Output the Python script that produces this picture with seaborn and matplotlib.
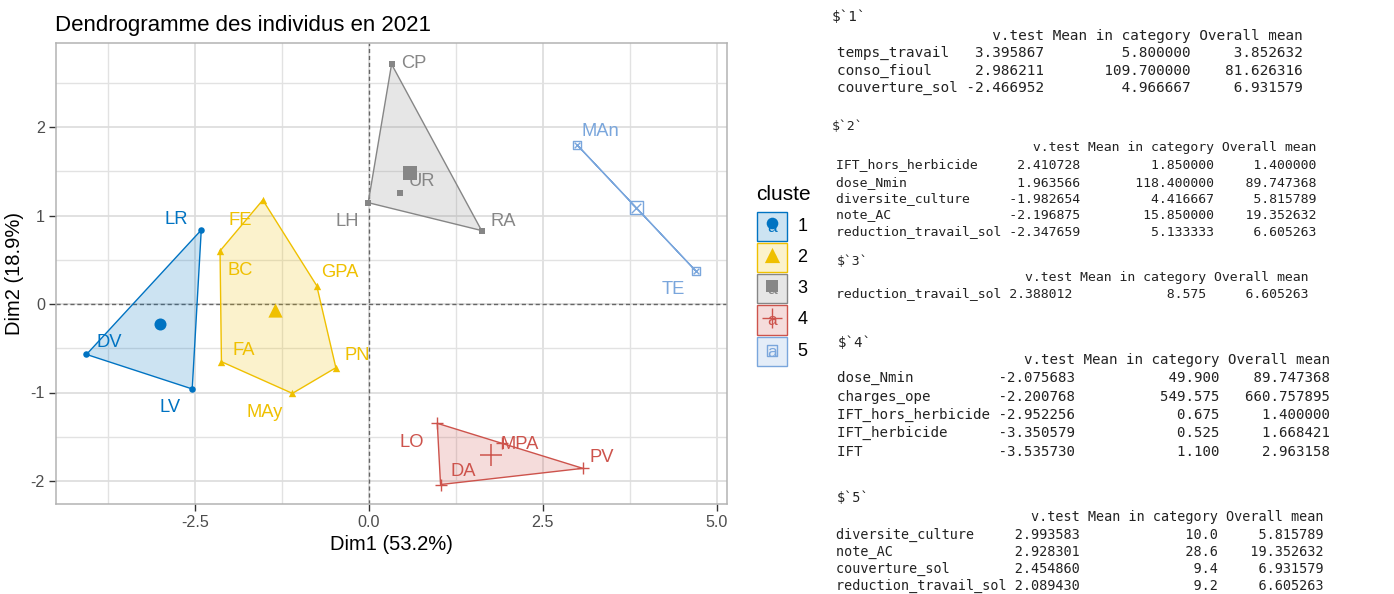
import numpy as np
import pandas as pd
import matplotlib
matplotlib.use("Agg")
import matplotlib.pyplot as plt
import seaborn as sns
from matplotlib.patches import Rectangle
from matplotlib.ticker import FixedLocator

# ---------------- data ----------------
names = ["LR", "DV", "LV", "FE", "BC", "GPA", "PN", "MAy", "FA",
         "CP", "LH", "RA", "UR", "LO", "DA", "PV", "MPA", "MAn", "TE"]
dim1 = [-2.41, -4.06, -2.54, -1.525, -2.14, -0.75, -0.475, -1.10, -2.12,
        0.326, -0.01, 1.62, 0.446, 0.983, 1.03, 3.075, 1.91, 2.99, 4.70]
dim2 = [0.836, -0.57, -0.96, 1.175, 0.60, 0.207, -0.72, -1.01, -0.652,
        2.71, 1.145, 0.83, 1.258, -1.348, -2.04, -1.857, -1.574, 1.80, 0.373]
cluster = [1, 1, 1, 2, 2, 2, 2, 2, 2, 3, 3, 3, 3, 4, 4, 4, 4, 5, 5]
cluster_levels = [1, 2, 3, 4, 5]

title = "Dendrogramme des individus en 2021"
xlabel = "Dim1 (53.2%)"
ylabel = "Dim2 (18.9%)"
legend_title = "cluster"
xticks = [-2.5, 0.0, 2.5, 5.0]
xticklabels = ["-2.5", "0.0", "2.5", "5.0"]
yticks = [-2, -1, 0, 1, 2]
yticklabels = ["-2", "-1", "0", "1", "2"]

# catdes-like console output (one list per column, per cluster)
c1_vars = ["temps_travail", "conso_fioul", "couverture_sol"]
c1_vtest = ["3.395867", "2.986211", "-2.466952"]
c1_mean = ["5.800000", "109.700000", "4.966667"]
c1_overall = ["3.852632", "81.626316", "6.931579"]

c2_vars = ["IFT_hors_herbicide", "dose_Nmin", "diversite_culture", "note_AC", "reduction_travail_sol"]
c2_vtest = ["2.410728", "1.963566", "-1.982654", "-2.196875", "-2.347659"]
c2_mean = ["1.850000", "118.400000", "4.416667", "15.850000", "5.133333"]
c2_overall = ["1.400000", "89.747368", "5.815789", "19.352632", "6.605263"]

c3_vars = ["reduction_travail_sol"]
c3_vtest = ["2.388012"]
c3_mean = ["8.575"]
c3_overall = ["6.605263"]

c4_vars = ["dose_Nmin", "charges_ope", "IFT_hors_herbicide", "IFT_herbicide", "IFT"]
c4_vtest = ["-2.075683", "-2.200768", "-2.952256", "-3.350579", "-3.535730"]
c4_mean = ["49.900", "549.575", "0.675", "0.525", "1.100"]
c4_overall = ["89.747368", "660.757895", "1.400000", "1.668421", "2.963158"]

c5_vars = ["diversite_culture", "note_AC", "couverture_sol", "reduction_travail_sol"]
c5_vtest = ["2.993583", "2.928301", "2.454860", "2.089430"]
c5_mean = ["10.0", "28.6", "9.4", "9.2"]
c5_overall = ["5.815789", "19.352632", "6.931579", "6.605263"]

# ---------------- styles / layout ----------------
palette = {1: "#0073C2", 2: "#EFC000", 3: "#868686", 4: "#CD534C", 5: "#7AA6DC"}
# label offsets in pixels (dx, dy up) of label centre from its point
label_off = {"LR": (-25, 13), "DV": (23, 14), "LV": (-22, -16), "FE": (-23, -18),
             "BC": (20, -18), "GPA": (23, 15), "PN": (21, 14), "MAy": (-28, -17),
             "FA": (22, 13), "CP": (22, 3), "LH": (-21, -17), "RA": (22, 11),
             "UR": (22, 13), "LO": (-26, -17), "DA": (23, 15), "PV": (19, 13),
             "MPA": (18, 1), "MAn": (23, 15), "TE": (-23, -16)}

W, H = 1394, 594
sns.set_theme(style="white")
plt.rcParams["font.family"] = ["Liberation Sans", "DejaVu Sans"]

df = pd.DataFrame({"name": names, "Dim1": dim1, "Dim2": dim2, "cluster": cluster})
cent = df.groupby("cluster")[["Dim1", "Dim2"]].mean().reset_index()

fig = plt.figure(figsize=(W / 100, H / 100), dpi=100)
fig.patch.set_facecolor("white")
L, R, T, B = 56, 726.7, 42.7, 503.7
ax = fig.add_axes([L / W, 1 - B / H, (R - L) / W, (B - T) / H])
ax.set_facecolor("white")

xpx = (716.7 - 195) / 7.5
x0 = 195 + 2.5 * xpx
ypx = (481 - 127) / 4.0
y0 = 127 + 2 * ypx
ax.set_xlim((L - x0) / xpx, (R - x0) / xpx)
ax.set_ylim((y0 - B) / ypx, (y0 - T) / ypx)

# grid
ax.xaxis.set_major_locator(FixedLocator(xticks))
ax.yaxis.set_major_locator(FixedLocator(yticks))
ax.xaxis.set_minor_locator(FixedLocator([-3.75, -1.25, 1.25, 3.75]))
ax.yaxis.set_minor_locator(FixedLocator([-1.5, -0.5, 0.5, 1.5, 2.5]))
ax.grid(True, which="major", color="#DCDCDC", lw=1.2, zorder=0)
ax.grid(True, which="minor", color="#E2E2E2", lw=1.0, zorder=0)
ax.set_axisbelow(True)
ax.set_xticklabels(xticklabels, fontsize=11.6, color="#4D4D4D")
ax.set_yticklabels(yticklabels, fontsize=11.6, color="#4D4D4D")
ax.tick_params(which="major", length=5, width=1.0, color="#333333", pad=3, bottom=True, left=True)
ax.tick_params(which="minor", length=0)
for s in ax.spines.values():
    s.set_color("#B3B3B3")
    s.set_linewidth(1.1)

# reference lines
ax.axhline(0, color="#666666", lw=1.0, ls=(0, (3, 2)), zorder=1)
ax.axvline(0, color="#666666", lw=1.0, ls=(0, (3, 2)), zorder=1)


def hull(pts):
    pts = sorted(set(pts))
    if len(pts) <= 2:
        return pts
    def cross(o, a, b):
        return (a[0] - o[0]) * (b[1] - o[1]) - (a[1] - o[1]) * (b[0] - o[0])
    lower, upper = [], []
    for p in pts:
        while len(lower) >= 2 and cross(lower[-2], lower[-1], p) <= 0:
            lower.pop()
        lower.append(p)
    for p in reversed(pts):
        while len(upper) >= 2 and cross(upper[-2], upper[-1], p) <= 0:
            upper.pop()
        upper.append(p)
    return lower[:-1] + upper[:-1]


for c in cluster_levels:
    sub = df[df.cluster == c]
    h = hull(list(zip(sub.Dim1, sub.Dim2)))
    hx = [p[0] for p in h] + [h[0][0]]
    hy = [p[1] for p in h] + [h[0][1]]
    if len(h) > 2:
        ax.fill(hx, hy, color=palette[c], alpha=0.2, lw=0, zorder=2)
    ax.plot(hx, hy, color=palette[c], lw=1.0, zorder=3)

# points
mk = {1: "o", 2: "^", 3: "s", 4: "+", 5: "s"}
s_pt = {1: 22, 2: 28, 3: 20, 4: 80, 5: 30}
s_ct = {1: 75, 2: 105, 3: 88, 4: 230, 5: 85}
for c in cluster_levels:
    sub = df[df.cluster == c]
    csub = cent[cent.cluster == c]
    col = palette[c]
    if c == 5:
        for data, s in ((sub, s_pt[c]), (csub, s_ct[c])):
            sns.scatterplot(data=data, x="Dim1", y="Dim2", marker="s", s=s, facecolors="none",
                            edgecolor=col, linewidth=1.0, ax=ax, zorder=4, legend=False)
            sns.scatterplot(data=data, x="Dim1", y="Dim2", marker="x", s=s * 0.55, color=col,
                            linewidth=1.0, ax=ax, zorder=4, legend=False)
    elif c == 4:
        sns.scatterplot(data=sub, x="Dim1", y="Dim2", marker="+", s=s_pt[c], color=col,
                        linewidth=1.0, ax=ax, zorder=4, legend=False)
        sns.scatterplot(data=csub, x="Dim1", y="Dim2", marker="+", s=s_ct[c], color=col,
                        linewidth=1.1, ax=ax, zorder=4, legend=False)
    else:
        sns.scatterplot(data=sub, x="Dim1", y="Dim2", marker=mk[c], s=s_pt[c], color=col,
                        edgecolor=col, linewidth=0, ax=ax, zorder=4, legend=False)
        sns.scatterplot(data=csub, x="Dim1", y="Dim2", marker=mk[c], s=s_ct[c], color=col,
                        edgecolor=col, linewidth=0, ax=ax, zorder=4, legend=False)

# labels
lab_fs = 13.2
cap = 0.716 * lab_fs / 0.72
for n, x, y, c in zip(names, dim1, dim2, cluster):
    dx, dy = label_off[n]
    ax.annotate(n, xy=(x, y), xytext=(dx, dy - cap / 2), textcoords="offset pixels",
                ha="center", va="baseline", fontsize=lab_fs, color=palette[c], zorder=5)

ax.set_xlabel(xlabel, fontsize=14.5, color="black", labelpad=4)
ax.set_ylabel(ylabel, fontsize=14.5, color="black", labelpad=5)
fig.text(55 / W, 1 - 30.7 / H, title, fontsize=16, color="black", ha="left", va="baseline")

# legend drawn in figure-pixel overlay
axl = fig.add_axes([0, 0, 1, 1])
axl.set_xlim(0, W)
axl.set_ylim(H, 0)
axl.axis("off")
axl.set_zorder(5)
axl.text(756, 195, legend_title, fontsize=15, color="black", ha="left", va="center")
key_x, key_top, key_size, key_step = 757.3, 211.7, 29.4, 31.2
leg_mk = {1: ("o", 70, 0), 2: ("^", 120, 0), 3: ("s", 75, 0), 4: ("+", 200, 1.0), 5: ("s", 60, 1.0)}
for i, c in enumerate(cluster_levels):
    col = palette[c]
    top = key_top + i * key_step
    cx, cy = key_x + key_size / 2, top + key_size / 2
    axl.add_patch(Rectangle((key_x, top), key_size, key_size,
                            facecolor=matplotlib.colors.to_rgba(col, 0.2), edgecolor=col, lw=1.0))
    axl.text(cx, cy + 1, "a", fontsize=12.5, color=col, ha="center", va="center")
    m, s, lw = leg_mk[c]
    if c == 5:
        axl.scatter([cx], [cy - 1], marker="s", s=s, facecolors="none", edgecolors=col, linewidths=lw)
    elif c == 4:
        axl.scatter([cx], [cy - 2], marker="+", s=s, color=col, linewidths=lw)
    else:
        axl.scatter([cx], [cy - 3], marker=m, s=s, color=col, linewidths=0)
    axl.text(797.5, cy, str(c), fontsize=13, color="black", ha="left", va="center")

# console text panel
PX = 812
axt = fig.add_axes([PX / W, 0, 1 - PX / W, 1])
axt.set_xlim(PX, W)
axt.set_ylim(H, 0)
axt.set_facecolor("white")
axt.set_xticks([])
axt.set_yticks([])
for s in axt.spines.values():
    s.set_visible(False)
axt.set_zorder(10)


def table_lines(vars_, vt, mean, over):
    nw = max(len(v) for v in vars_)
    vw = max(len("v.test"), max(len(v) for v in vt))
    mw = max(len("Mean in category"), max(len(v) for v in mean))
    ow = max(len("Overall mean"), max(len(v) for v in over))
    lines = [" " * nw + " " + "v.test".rjust(vw) + " " + "Mean in category".rjust(mw) + " " + "Overall mean".rjust(ow)]
    for a, b, c, d in zip(vars_, vt, mean, over):
        lines.append(a.ljust(nw) + " " + b.rjust(vw) + " " + c.rjust(mw) + " " + d.rjust(ow))
    return lines


blocks = [
    ("$`1`", (c1_vars, c1_vtest, c1_mean, c1_overall), 8.66, 831.7, 837.3, [16.7, 35.7, 53.3, 70.7, 88.3]),
    ("$`2`", (c2_vars, c2_vtest, c2_mean, c2_overall), 7.92, 831.7, 836.0, [126.7, 147.3, 165, 182.3, 198.5, 214.7, 231.3]),
    ("$`3`", (c3_vars, c3_vtest, c3_mean, c3_overall), 7.93, 836.7, 836.0, [261.7, 277.3, 294]),
    ("$`4`", (c4_vars, c4_vtest, c4_mean, c4_overall), 8.52, 838.0, 837.3, [342.7, 360, 378.3, 396.7, 414.7, 433.3, 451.7]),
    ("$`5`", (c5_vars, c5_vtest, c5_mean, c5_overall), 8.15, 836.7, 836.0, [498.3, 516.7, 535, 552, 569.3, 586]),
]
for head, cols, pxc, xh, xr, ys in blocks:
    fs = pxc / 0.602 * 0.72
    axt.text(xh, ys[0], head, fontsize=fs, family="DejaVu Sans Mono", color="#222222",
             ha="left", va="center")
    for line, y in zip(table_lines(*cols), ys[1:]):
        axt.text(xr, y, line, fontsize=fs, family="DejaVu Sans Mono", color="#222222",
                 ha="left", va="center")

fig.savefig("out.png", dpi=100, facecolor="white")
